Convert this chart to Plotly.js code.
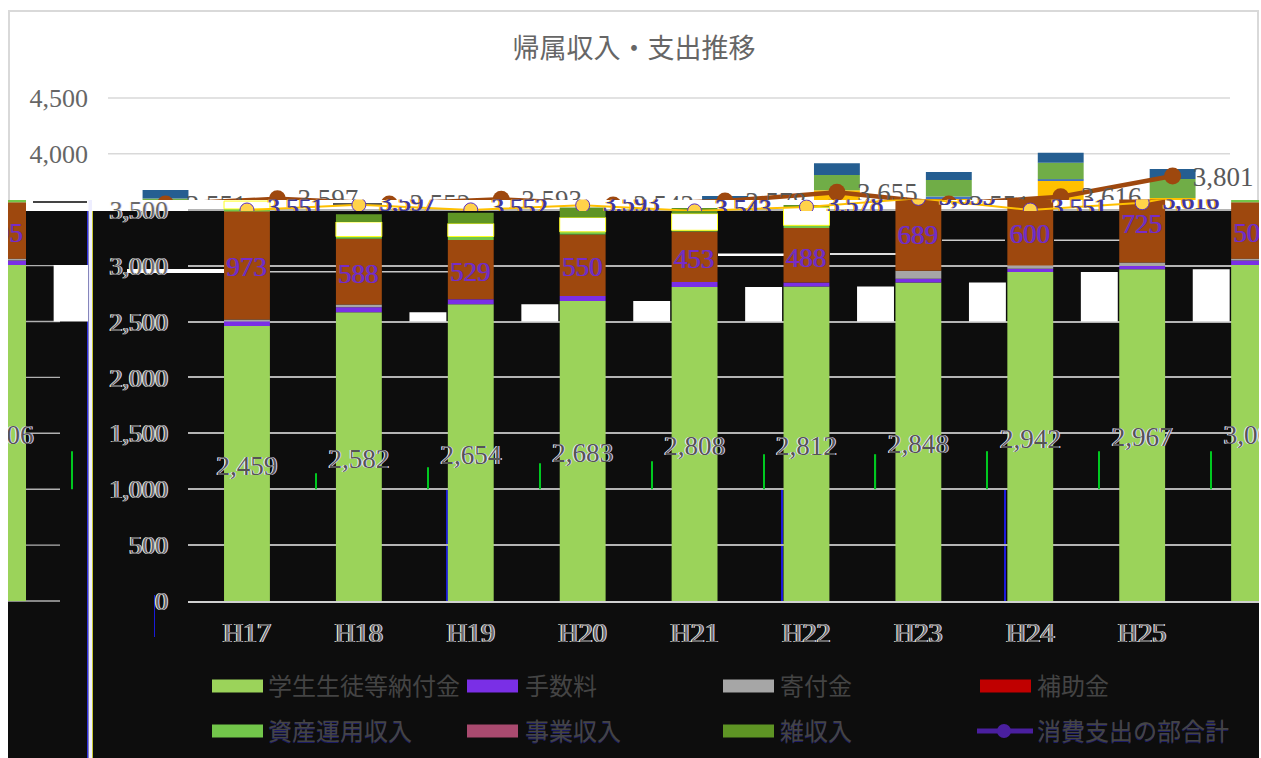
<!DOCTYPE html>
<html><head><meta charset="utf-8">
<script src="https://cdn.plot.ly/plotly-3.0.1.min.js"></script>
<style>html,body{margin:0;padding:0;background:#fff}#c{width:1261px;height:758px}</style>
</head><body><div id="c"></div>
<script>
const years=['H17','H18','H19','H20','H21','H22','H23','H24','H25','H26'];
const tuition=[2459,2582,2654,2683,2808,2812,2848,2942,2967,3006];
const fees=[45,45,45,45,45,36,35,30,30,40];
const donations=[15,25,0,0,0,0,70,30,30,15];
const subsidies=[973,588,529,550,453,488,689,600,725,505];
const investment=[15,20,32,24,10,24,15,0,0,20];
const business=[70,130,116,128,149,161,0,0,0,0];
const misc=[0,70,97,90,50,20,0,0,0,0];
const gold=[0,0,0,0,0,15,17,0,5,19];
const thinBlue=[0,0,0,0,0,0,0,15,15,0];
const midGreen=[23,0,0,0,0,30,137,149,148,170];
const navy=[76,0,0,0,0,36,105,72,89,89];
const totals=[3551,3597,3552,3593,3543,3578,3655,3551,3616,3801];
const greenTicks=[1143,1197,1233,1250,1313,1313,1340,1340,1340,1340];
const upperTicks=[4000,4500];
const lowerTicks=[0,500,1000,1500,2000,2500,3000,3500];
const legendNames=['学生生徒等納付金','手数料','寄付金','補助金','資産運用収入','事業収入','雑収入','消費支出の部合計'];
const legendColors=['#9bd35a','#7a2fe6','#a6a6a6','#c00000','#72c64a','#a94a6f','#5e9424','#4a1f9f'];

const W=1261,H=758,X=p=>p/W,Y=p=>1-p/H;
const serif='"Liberation Serif","DejaVu Serif",serif', cjk='"Noto Sans CJK JP","Noto Sans",sans-serif';
const idx=years.map((_,i)=>i);
const fmt=v=>v.toLocaleString('en-US');
const BW=0.41, GHOST=0.617, NUDGE=40, LABELSHIFT=0.18;
const lowerLayers=[[tuition,'#9bd35a'],[fees,'#7a2fe6'],[donations,'#a6a6a6'],[subsidies,'#9e480e'],[investment,'#72c64a'],[business,'#ffffff'],[misc,'#5e9424']];
const cum=idx.map(()=>0), traces=[];
const bases={};
lowerLayers.forEach(([arr,col],k)=>{
  const b=cum.slice(); bases[k]=b; arr.forEach((v,i)=>cum[i]+=v);
});
function addLower(xa,ya){
  lowerLayers.forEach(([arr,col],k)=>{
    traces.push({type:'bar',x:idx,y:arr,base:bases[k],width:BW,xaxis:xa,yaxis:ya,showlegend:false,hoverinfo:'skip',
      marker:{color:col,line:{color:k===5?'#ffff20':col,width:arr.map(v=>(k===5&&v>0)?1:0)}}});
  });
  const gi=idx.filter(i=>tuition[i]>2500);
  traces.push({type:'bar',x:gi.map(i=>i+GHOST),y:gi.map(i=>tuition[i]-2500),base:gi.map(()=>2500),width:0.33,xaxis:xa,yaxis:ya,
    showlegend:false,hoverinfo:'skip',marker:{color:'#ffffff',line:{width:0}}});
  traces.push({type:'bar',x:idx.map(i=>i+GHOST),y:greenTicks.map(v=>v-1000),base:idx.map(()=>1000),width:0.011,xaxis:xa,yaxis:ya,
    showlegend:false,hoverinfo:'skip',marker:{color:'#00c820',line:{width:0}}});
  const sh='-1px 0 0 #f2f2ff, 1px 0 0 #d8d0ff';
  traces.push({type:'scatter',mode:'text',x:idx,y:tuition.map(v=>v/2-NUDGE),text:tuition.map(fmt),textposition:'middle center',
    textfont:{family:serif,size:27,color:'#555555',shadow:sh},xaxis:xa,yaxis:ya,showlegend:false,hoverinfo:'skip'});
  traces.push({type:'scatter',mode:'text',x:idx,y:idx.map(i=>bases[3][i]+subsidies[i]/2-NUDGE),text:subsidies.map(fmt),textposition:'middle center',
    textfont:{family:serif,size:27,color:'#7a2bc8',shadow:'-1px 0 0 #5a3aa0'},xaxis:xa,yaxis:ya,showlegend:false,hoverinfo:'skip'});
}
// upper stack, visible above the tear
const goldTop=idx.map(i=>cum[i]+gold[i]);
traces.push({type:'bar',x:idx,y:goldTop,width:BW,xaxis:'x',yaxis:'y',showlegend:false,hoverinfo:'skip',marker:{color:'#ffc000',line:{width:0}}});
let run=goldTop.slice();
[[thinBlue,'#4472c4'],[midGreen,'#70ad47'],[navy,'#255e91']].forEach(([arr,col])=>{
  traces.push({type:'bar',x:idx,y:arr,base:run.slice(),width:BW,xaxis:'x',yaxis:'y',showlegend:false,hoverinfo:'skip',marker:{color:col,line:{width:0}}});
  run=run.map((v,i)=>v+arr[i]);
});
traces.push({type:'scatter',mode:'lines+markers',x:idx,y:totals,
  line:{color:'#9e480e',width:4.5},marker:{color:'#9e480e',size:17},
  xaxis:'x',yaxis:'y',showlegend:false,hoverinfo:'skip',cliponaxis:true});
traces.push({type:'scatter',mode:'text',x:idx.map(i=>i+LABELSHIFT),y:totals.map(v=>v-25),text:totals.map(fmt),textposition:'middle right',
  textfont:{family:serif,size:27,color:'#595959'},xaxis:'x',yaxis:'y',showlegend:false,hoverinfo:'skip',cliponaxis:true});
addLower('x2','y2');
// tear band
traces.push({type:'scatter',mode:'lines+markers',x:idx,y:totals,
  line:{color:'#ffc000',width:2},marker:{color:'#ffd24a',size:14,line:{color:'#5a30c0',width:1}},
  xaxis:'x3',yaxis:'y3',showlegend:false,hoverinfo:'skip',cliponaxis:true});
traces.push({type:'scatter',mode:'text',x:idx.map(i=>i+LABELSHIFT),y:totals,text:totals.map(fmt),textposition:'middle right',
  textfont:{family:serif,size:25,color:'#3a3a90',shadow:'-1px 0 0 #ffc000, 1px 0 0 #5030c0'},
  xaxis:'x3',yaxis:'y3',showlegend:false,hoverinfo:'skip',cliponaxis:true});
addLower('x4','y4');

const rect=(x0,y0,x1,y1,color,layer)=>({type:'rect',xref:'paper',yref:'paper',x0:X(x0),x1:X(x1),y0:Y(y1),y1:Y(y0),fillcolor:color,line:{width:0},layer:layer||'below'});
const lowerY=v=>601-v*0.1118;
const shapes=[
  rect(8,10,1259,12,'#d9d9d9'),rect(8,10,10,200,'#d9d9d9'),rect(1257,10,1259,200,'#d9d9d9'),
  rect(8,211,1259,758,'#0d0d0d'),
  rect(87,211,88.5,758,'#3030e0'),rect(88.5,200,92,758,'#eeeeff'),rect(92,211,93,758,'#c8c830'),
  // torn-image streaks
  rect(127,269,224,273,'#ffffff'),rect(270,271,336,272.5,'#c8c8c8'),rect(382,271,448,272.5,'#c8c8c8'),
  rect(718,253.5,785,256,'#ffffff'),rect(830,253,897,255,'#dddddd'),rect(1054,239.5,1120,241,'#cccccc'),rect(942,239.5,1005,241,'#cccccc'),
  rect(33,201,87,203,'#444444'),rect(333,203,382,206,'#555555'),
  rect(154,595,155,637,'#1a1ad8'),rect(446,490,448,601,'#1a1ad8'),rect(781,490,783,601,'#1a1ad8'),rect(1004,490,1006,601,'#1a1ad8'),
  // image edges
  rect(0,0,8,758,'#ffffff','above'),rect(1259,0,1261,758,'#ffffff','above')
];
// gridlines that stop short of the subplot edge
upperTicks.forEach(v=>shapes.push({type:'line',xref:'paper',yref:'y',x0:X(108),x1:X(1230),y0:v,y1:v,line:{color:'#d9d9d9',width:1.5},layer:'below'}));
lowerTicks.slice(0,7).forEach(v=>shapes.push(rect(8,lowerY(v)-0.7,60,lowerY(v)+0.7,'#b0b0b0')));

// legend
const annotations=[];
const lx=[212,467,723,980], tx=[266,523,778,1035], ly=[684.5,729.5];
legendNames.forEach((n,k)=>{
  const c=k%4,r=k<4?0:1;
  annotations.push({xref:'paper',yref:'paper',x:X(tx[c]),y:Y(ly[r]),text:n,showarrow:false,xanchor:'left',yanchor:'middle',
    font:{family:cjk,size:24,color:'#444444',shadow:r?'0 1px 0 rgba(40,40,180,0.55)':'none'}});
  const sy=ly[r]+1.5;
  if(k<7) shapes.push(rect(lx[c],sy-6.5,lx[c]+51,sy+6.5,legendColors[k]));
  else{
    shapes.push(rect(977,sy-2.5,1033,sy+2.5,legendColors[k]));
    shapes.push({type:'circle',xref:'paper',yref:'paper',x0:X(997),x1:X(1011),y0:Y(sy+7),y1:Y(sy-7),fillcolor:legendColors[k],line:{width:0},layer:'below'});
  }
});

const tickBase={showline:false,zeroline:false,ticks:'',ticklen:0};
const numFontUp={family:serif,size:26,color:'#666666'};
const halo='-1px 0 0 #fffbe0, 1px 0 0 #d8d8ff';
const numFontLow={family:serif,size:26,color:'#6a6a6a',shadow:halo};
const catFont={family:serif,size:28,color:'#6a6a6a',shadow:halo};
const layout={
  width:W,height:H,margin:{l:0,r:0,t:0,b:0},paper_bgcolor:'#ffffff',plot_bgcolor:'rgba(0,0,0,0)',
  barmode:'overlay',showlegend:false,
  title:{text:'帰属収入・支出推移',x:X(634),xanchor:'center',y:Y(48.5),yanchor:'middle',font:{family:cjk,size:27,color:'#666666'}},
  xaxis:{...tickBase,domain:[X(108),X(1258)],range:[-0.514,9.763],showticklabels:false,showgrid:false,anchor:'y'},
  yaxis:{...tickBase,domain:[Y(200),Y(60)],range:[(601-200)/0.1118,(601-60)/0.1118],tickvals:upperTicks,ticktext:upperTicks.map(fmt),
    tickfont:numFontUp,ticklabelstandoff:19,showgrid:false,anchor:'x'},
  xaxis2:{...tickBase,domain:[X(188),X(1259)],range:[-0.527,9.044],tickmode:'array',tickvals:idx,ticktext:years,
    tickfont:catFont,ticklabelstandoff:6,showgrid:false,anchor:'y2',showline:true,linecolor:'#d0d0d0',linewidth:1.5},
  yaxis2:{...tickBase,domain:[Y(601),Y(199.5)],range:[0,(601-199.5)/0.1118],tickvals:lowerTicks,ticktext:lowerTicks.map(fmt),
    tickfont:numFontLow,ticklabelstandoff:19,showgrid:true,gridcolor:'#b4b4b4',gridwidth:1.5,anchor:'x2'},
  xaxis3:{...tickBase,domain:[X(188),X(1259)],range:[-0.527,9.044],showticklabels:false,showgrid:false,anchor:'y3'},
  yaxis3:{...tickBase,domain:[Y(211),Y(199.5)],range:[(601-205)/0.1118,(601-193.5)/0.1118],showticklabels:false,showgrid:false,anchor:'x3'},
  xaxis4:{...tickBase,domain:[X(8),X(88)],range:[9.044,9.759],tickmode:'array',tickvals:[9],ticktext:['H26'],
    tickfont:catFont,ticklabelstandoff:6,showgrid:false,anchor:'y4'},
  yaxis4:{...tickBase,domain:[Y(601),Y(199.5)],range:[0,(601-199.5)/0.1118],showticklabels:false,showgrid:false,anchor:'x4'},
  shapes,annotations
};
Plotly.newPlot('c',traces,layout,{displayModeBar:false,responsive:false});
</script></body></html>
